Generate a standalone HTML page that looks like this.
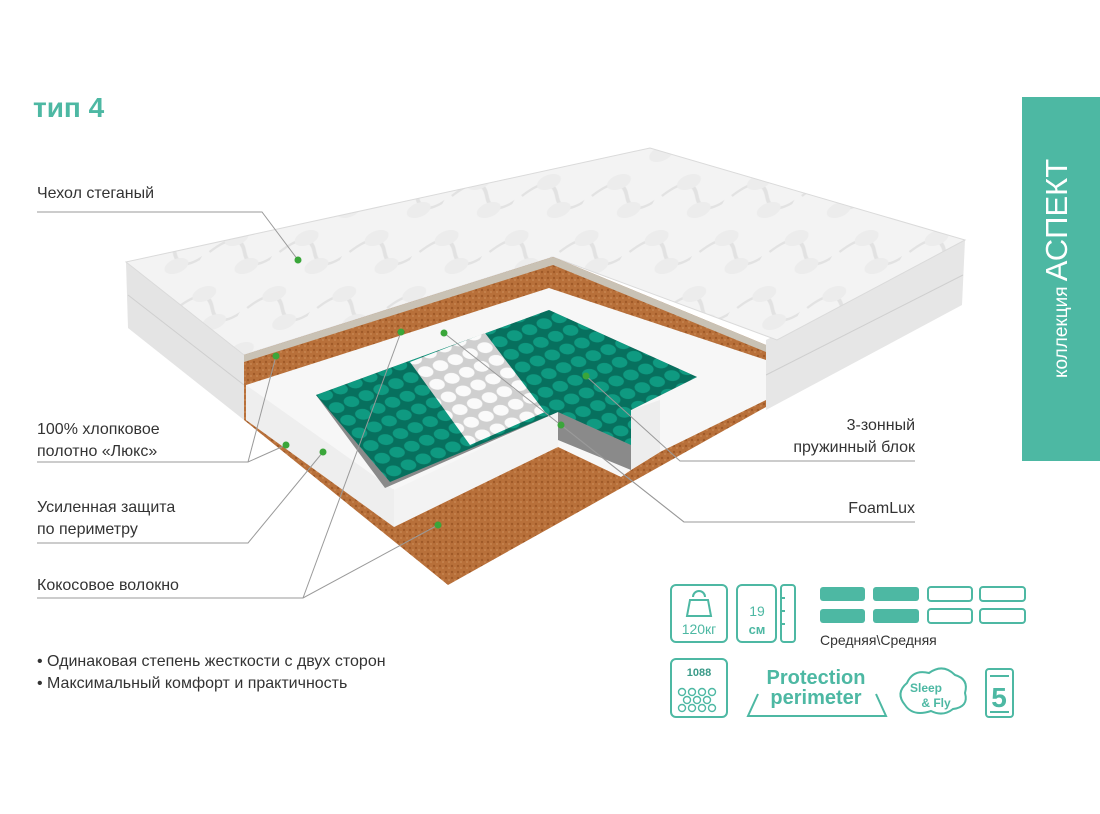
<!DOCTYPE html>
<html><head><meta charset="utf-8"><style>
body{margin:0;width:1100px;height:814px;background:#fff;overflow:hidden;position:relative;font-family:"Liberation Sans",sans-serif;}
.t{position:absolute;font-size:16px;color:#333;line-height:22px;white-space:nowrap}
</style></head><body>
<svg width="1100" height="814" style="position:absolute;left:0;top:0" xmlns="http://www.w3.org/2000/svg">
<defs>
<pattern id="quilt" width="70" height="56" patternUnits="userSpaceOnUse" patternTransform="skewX(-30)">
<rect width="70" height="56" fill="#f3f3f3"/>
<path d="M5 28 q17 -24 35 0 t35 0" fill="none" stroke="#e2e2e2" stroke-width="3"/>
<ellipse cx="24" cy="14" rx="11" ry="8" fill="#ececec"/>
<ellipse cx="50" cy="42" rx="11" ry="8" fill="#ececec"/>
</pattern>
<pattern id="coco" width="6" height="6" patternUnits="userSpaceOnUse">
<rect width="6" height="6" fill="#b8703a"/><circle cx="2" cy="2" r="1.2" fill="#a05a28"/><circle cx="5" cy="4" r="0.9" fill="#c98a55"/>
</pattern>
<pattern id="teal" width="16" height="16" patternUnits="userSpaceOnUse" patternTransform="rotate(-22) skewX(20)">
<rect width="16" height="16" fill="#07705e"/><ellipse cx="8" cy="8" rx="7" ry="6" fill="#0f9a81"/>
</pattern>
<pattern id="wsp" width="16" height="16" patternUnits="userSpaceOnUse" patternTransform="rotate(-22) skewX(20)">
<rect width="16" height="16" fill="#cfcfcf"/><ellipse cx="8" cy="8" rx="7" ry="6" fill="#fafafa"/>
</pattern>
</defs>
<polygon points="126,262 244,352 244,420 128,328" fill="#e4e4e4"/>
<polyline points="128,295 244,385" stroke="#cfcfcf" fill="none"/>
<polygon points="766,340 965,240 962,305 766,410" fill="#e6e6e6"/>
<polyline points="766,375 963,275" stroke="#cfcfcf" fill="none"/>
<polygon points="126,262 650,148 965,240 777,340 553,257 244,355" fill="url(#quilt)" stroke="#dadada"/>
<polygon points="244,355 553,257 766,345 766,407 448,585 244,420" fill="url(#coco)"/>
<polygon points="244,355 553,257 766,345 766,352 553,265 244,362" fill="#c9c2b5"/>
<polygon points="246,385 549,288 766,360 766,400 660,452 631,470 621,477 558,447 394,527 394,490 246,420" fill="#f7f7f7"/>
<polygon points="246,385 394,490 394,527 246,420" fill="#eeeeee"/>
<polygon points="631,410 660,400 660,452 631,470" fill="#ededed"/>
<polygon points="394,527 556,447 621,478 448,575" fill="url(#coco)"/>
<polygon points="558,412 558,447 394,527 394,490" fill="#f3f3f3"/>
<polygon points="316,395 549,310 697,377 631,410 631,470 558,440 558,412 385,488" fill="#8a8a8a"/>
<polygon points="316,395 549,310 697,377 631,410 631,445 558,412 390,482" fill="url(#teal)"/>
<polygon points="410,362 485,333 545,412 470,445" fill="url(#wsp)"/>
<g stroke="#9a9a9a" fill="none" stroke-width="1">
<polyline points="37,212 262,212 298,260"/>
<polyline points="37,462 248,462 286,445"/>
<polyline points="248,462 276,356"/>
<polyline points="37,543 248,543 323,452"/>
<polyline points="37,598 303,598 438,525"/>
<polyline points="303,598 401,332"/>
<polyline points="915,461 680,461 586,376"/>
<polyline points="915,522 684,522 444,333"/>
<polyline points="684,522 561,425"/>
</g>
<g fill="#3aa63a">
<circle cx="298" cy="260" r="3.5"/><circle cx="276" cy="356" r="3.5"/><circle cx="401" cy="332" r="3.5"/>
<circle cx="444" cy="333" r="3.5"/><circle cx="286" cy="445" r="3.5"/><circle cx="323" cy="452" r="3.5"/>
<circle cx="438" cy="525" r="3.5"/><circle cx="586" cy="376" r="3.5"/><circle cx="561" cy="425" r="3.5"/>
</g>
<rect x="1022" y="97" width="78" height="364" fill="#4db8a3"/>
<text transform="translate(1067,378) rotate(-90)" fill="#fff" font-family="Liberation Sans,sans-serif" font-size="19" font-weight="300">коллекция <tspan font-size="31">АСПЕКТ</tspan></text>
<g fill="none" stroke="#4db8a3" stroke-width="2">
<rect x="671" y="585" width="56" height="57" rx="5"/>
<rect x="737" y="585" width="39" height="57" rx="5"/>
<rect x="781" y="585" width="14" height="57" rx="3"/>
<path d="M781 598h4M781 611h4M781 624h4"/>
<path d="M693 597 a6 6 0 1 1 12 0" />
<path d="M690 600 h18 l3 16 h-24 z" />
<rect x="928" y="587" width="44" height="14" rx="3"/><rect x="980" y="587" width="45" height="14" rx="3"/>
<rect x="928" y="609" width="44" height="14" rx="3"/><rect x="980" y="609" width="45" height="14" rx="3"/>
<rect x="671" y="659" width="56" height="58" rx="5"/>
<g stroke-width="1.4"><circle cx="682" cy="692" r="3.5"/><circle cx="692" cy="692" r="3.5"/><circle cx="702" cy="692" r="3.5"/><circle cx="712" cy="692" r="3.5"/>
<circle cx="687" cy="700" r="3.5"/><circle cx="697" cy="700" r="3.5"/><circle cx="707" cy="700" r="3.5"/>
<circle cx="682" cy="708" r="3.5"/><circle cx="692" cy="708" r="3.5"/><circle cx="702" cy="708" r="3.5"/><circle cx="712" cy="708" r="3.5"/></g>
<polyline points="758,694 748,716 886,716 876,694"/>
<path d="M905 705 q-10 -12 2 -22 q6 -14 22 -10 q14 -10 26 2 q14 4 10 18 q4 14 -12 16 q-10 8 -22 2 q-18 6 -26 -6z"/>
<rect x="986" y="669" width="27" height="48" rx="3"/>
<path d="M990 676h19M990 712h19"/>
</g>
<g fill="#4db8a3">
<rect x="820" y="587" width="45" height="14" rx="3"/><rect x="873" y="587" width="46" height="14" rx="3"/>
<rect x="820" y="609" width="45" height="14" rx="3"/><rect x="873" y="609" width="46" height="14" rx="3"/>
</g>
<g font-family="Liberation Sans,sans-serif" fill="#4db8a3">
<text x="699" y="634" font-size="14" text-anchor="middle">120кг</text>
<text x="757" y="616" font-size="14" text-anchor="middle">19</text>
<text x="757" y="634" font-size="13" font-weight="bold" text-anchor="middle">см</text>
<text x="699" y="676" font-size="11" font-weight="bold" text-anchor="middle" fill="#3a9a88">1088</text>
<text x="816" y="684" font-size="20" font-weight="bold" text-anchor="middle">Protection</text>
<text x="816" y="704" font-size="20" font-weight="bold" text-anchor="middle">perimeter</text>
<text x="926" y="692" font-size="12" font-weight="bold" text-anchor="middle">Sleep</text>
<text x="936" y="707" font-size="12" font-weight="bold" text-anchor="middle">&amp; Fly</text>
<text x="999" y="707" font-size="28" font-weight="bold" text-anchor="middle">5</text>
</g>
<text x="820" y="645" font-family="Liberation Sans,sans-serif" font-size="14" fill="#333">Средняя\Средняя</text>
</svg>
<div class="t" style="left:33px;top:90px;font-size:28px;font-weight:bold;color:#4db8a3;line-height:36px">тип 4</div>
<div class="t" style="left:37px;top:183px">Чехол стеганый</div>
<div class="t" style="left:37px;top:419px">100% хлопковое<br>полотно «Люкс»</div>
<div class="t" style="left:37px;top:497px">Усиленная защита<br>по периметру</div>
<div class="t" style="left:37px;top:575px">Кокосовое волокно</div>
<div class="t" style="right:185px;top:415px;text-align:right">3-зонный<br>пружинный блок</div>
<div class="t" style="right:185px;top:498px">FoamLux</div>
<div class="t" style="left:37px;top:651px">• Одинаковая степень жесткости с двух сторон<br>• Максимальный комфорт и практичность</div>
</body></html>
